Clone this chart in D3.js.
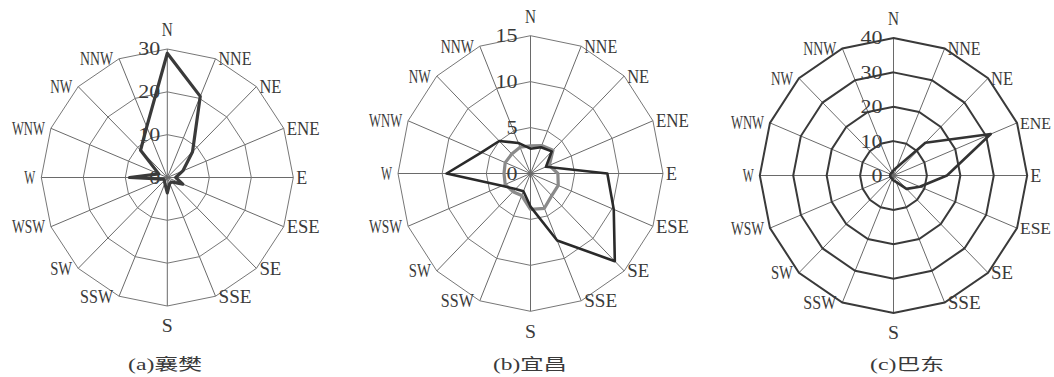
<!DOCTYPE html>
<html>
<head>
<meta charset="utf-8">
<script src="https://cdn.jsdelivr.net/npm/d3@7"></script>
<style>
  html, body { margin: 0; padding: 0; background: #fff; }
  svg { display: block; }
</style>
</head>
<body>
<svg id="chart" width="1054" height="377"></svg>
<script>
// 16 compass directions, clockwise from north
const directions = ["N","NNE","NE","ENE","E","ESE","SE","SSE","S","SSW","SW","WSW","W","WNW","NW","NNW"];

// (a) 襄樊 wind frequency
const xiangfanTicks = [0, 10, 20, 30];
const xiangfanValues = [29, 20.5, 8.5, 4, 2, 4, 1.5, 1.5, 3.6, 1.5, 1, 1, 9, 2.2, 9, 12.8];

// (b) 宜昌: two series
const yichangTicks = [0, 5, 10, 15];
const yichangDark = [2.7, 3.1, 3.4, 1.9, 8.7, 10.2, 13.5, 7.9, 3.6, 2.1, 2.4, 3.5, 9.5, 6.0, 5.0, 3.6];
const yichangGray = [3.0, 3.3, 3.6, 2.3, 3.1, 3.4, 3.4, 4.1, 3.9, 2.6, 2.8, 3.1, 3.0, 3.1, 3.0, 3.1];

// (c) 巴东
const badongTicks = [0, 10, 20, 30, 40];
const badongValues = [1.5, 2.5, 13.5, 31.5, 16, 8.5, 5.5, 2, 1.5, 1, 1, 1, 1, 1, 1, 1];

const captions = ["(a)襄樊", "(b)宜昌", "(c)巴东"];

const svg = d3.select("#chart");
const width = 1054;
const labelFont = "'Liberation Serif', 'Times New Roman', serif";
const textColor = "#3a3a3a";
const labelSize = 19.5;

const panels = [
  { cx: 167.3, cy: 177.5, rx: 126, ry: 128.5, ticks: xiangfanTicks,
    ringStroke: "#777", ringWidth: 1, tickDx: -7, caption: captions[0], capX: 165,
    series: [{ values: xiangfanValues, stroke: "#3a3a3a", width: 3.2 }] },
  { cx: 530.5, cy: 173.5, rx: 132.5, ry: 137.8, ticks: yichangTicks,
    ringStroke: "#777", ringWidth: 1, tickDx: -13, caption: captions[1], capX: 530,
    series: [{ values: yichangGray, stroke: "#8a8a8a", width: 3.2 },
             { values: yichangDark, stroke: "#2a2a2a", width: 2.6 }] },
  { cx: 893.5, cy: 175.5, rx: 133.7, ry: 137.5, ticks: badongTicks,
    ringStroke: "#3a3a3a", ringWidth: 2, tickDx: -11, caption: captions[2], capX: 907,
    series: [{ values: badongValues, stroke: "#333", width: 2.6 }] }
];

const step = 2 * Math.PI / directions.length;
const charW = 11;

panels.forEach(p => {
  const maxV = d3.max(p.ticks);
  const rX = d3.scaleLinear().domain([0, maxV]).range([0, p.rx]);
  const rY = d3.scaleLinear().domain([0, maxV]).range([0, p.ry]);
  const pt = (v, i) => [rX(v) * Math.sin(i * step), -rY(v) * Math.cos(i * step)];

  const g = svg.append("g").attr("transform", `translate(${p.cx},${p.cy})`);
  const closed = d3.line().curve(d3.curveLinearClosed);

  // spokes
  g.selectAll("line.spoke").data(directions).join("line")
    .attr("class", "spoke")
    .attr("x1", 0).attr("y1", 0)
    .attr("x2", (d, i) => pt(maxV, i)[0])
    .attr("y2", (d, i) => pt(maxV, i)[1])
    .attr("stroke", "#6a6a6a").attr("stroke-width", 1);

  // rings
  g.selectAll("path.ring").data(p.ticks.filter(t => t > 0)).join("path")
    .attr("class", "ring")
    .attr("d", t => closed(directions.map((d, i) => pt(t, i))))
    .attr("fill", "none")
    .attr("stroke", p.ringStroke).attr("stroke-width", p.ringWidth);

  // tick labels along the north spoke
  g.selectAll("text.tick").data(p.ticks).join("text")
    .attr("class", "tick")
    .attr("x", p.tickDx)
    .attr("y", t => -rY(t) + 2)
    .attr("text-anchor", "end")
    .attr("dominant-baseline", "middle")
    .attr("font-family", labelFont)
    .attr("font-size", labelSize)
    .attr("fill", textColor)
    .attr("textLength", t => String(t).length * charW)
    .attr("lengthAdjust", "spacingAndGlyphs")
    .text(t => t);

  // direction labels
  g.selectAll("text.dir").data(directions).join("text")
    .attr("class", "dir")
    .attr("dominant-baseline", "middle")
    .attr("font-family", labelFont)
    .attr("font-size", labelSize)
    .attr("fill", textColor)
    .text(d => d)
    .each(function (d, i) {
      const [x, y] = pt(maxV, i);
      const sel = d3.select(this);
      let len = d.length * charW;
      if (i === 0) {
        sel.attr("x", x).attr("y", y - 17).attr("text-anchor", "middle");
      } else if (i === 8) {
        sel.attr("x", x).attr("y", y + 22).attr("text-anchor", "middle");
      } else if (i < 8) {
        const startX = x + 3;
        sel.attr("x", startX).attr("y", y + 2).attr("text-anchor", "start");
        // keep labels at the right page edge inside the page
        const room = width - 3 - (p.cx + startX);
        if (len > room) {
          const natural = this.getComputedTextLength();
          sel.attr("font-size", labelSize * Math.min(1, room / natural));
          len = room;
        }
      } else {
        sel.attr("x", x - 6).attr("y", y + 2).attr("text-anchor", "end");
      }
      sel.attr("textLength", len).attr("lengthAdjust", "spacingAndGlyphs");
    });

  // data polygons
  p.series.forEach(s => {
    g.append("path")
      .attr("d", closed(s.values.map((v, i) => pt(v, i))))
      .attr("fill", "none")
      .attr("stroke", s.stroke)
      .attr("stroke-width", s.width)
      .attr("stroke-linejoin", "round");
  });

  // caption
  svg.append("text")
    .attr("x", p.capX)
    .attr("y", 366)
    .attr("text-anchor", "middle")
    .attr("dominant-baseline", "middle")
    .attr("font-family", "'Liberation Serif', 'Noto Sans CJK SC', serif")
    .attr("font-size", 16)
    .attr("fill", textColor)
    .attr("textLength", 74)
    .attr("lengthAdjust", "spacingAndGlyphs")
    .text(p.caption);
});
</script>
</body>
</html>
